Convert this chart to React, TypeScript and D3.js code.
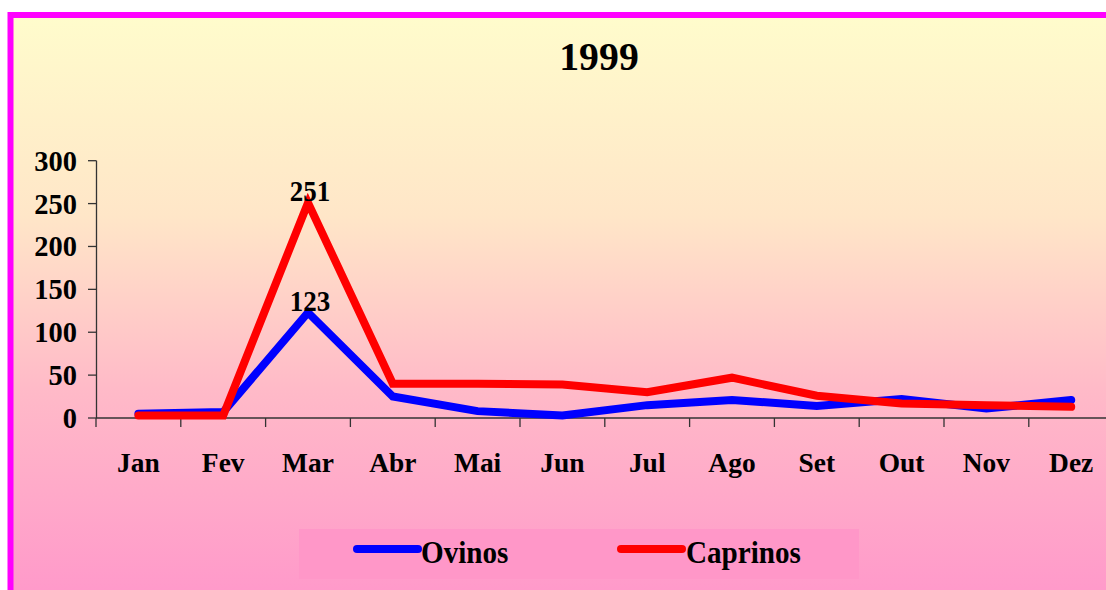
import React from "react";
import * as d3 from "d3";

const months = ["Jan", "Fev", "Mar", "Abr", "Mai", "Jun", "Jul", "Ago", "Set", "Out", "Nov", "Dez"];
const ovinos = [5, 7, 123, 25, 8, 3, 15, 21, 14, 22, 11, 21];
const caprinos = [3, 3, 251, 40, 40, 39, 30, 47, 26, 17, 15, 13];
const yTicks = [0, 50, 100, 150, 200, 250, 300];
const title = "1999";
const seriesNames = ["Ovinos", "Caprinos"];
const labeled = [{ series: 0, index: 2 }, { series: 1, index: 2 }];

const W = 1106;
const H = 590;
const FONT = "'Liberation Serif', 'Times New Roman', serif";

export default function App() {
  const x0 = 96;
  const band = 84.8;
  const x = d3.scaleBand<string>().domain(months).range([x0, x0 + band * months.length]).padding(0);
  const y = d3.scaleLinear().domain([0, 300]).range([418, 160.7]);
  const cx = (i: number) => (x(months[i]) as number) + x.bandwidth() / 2;
  const line = d3.line<number>().x((_, i) => cx(i)).y((d) => y(d));
  const series = [ovinos, caprinos];
  const colors = ["#0000FF", "#FF0000"];

  const legendItems = [
    { name: seriesNames[0], color: colors[0], lx: 357, tx: 421 },
    { name: seriesNames[1], color: colors[1], lx: 621, tx: 686 },
  ];

  return (
    <svg width={W} height={H} style={{ position: "absolute", left: 0, top: 0 }} fontFamily={FONT}>
      <defs>
        <linearGradient id="bg" gradientUnits="userSpaceOnUse" x1="0" y1="15" x2="0" y2="590">
          <stop offset="0" stopColor="#FFFCCC" />
          <stop offset="0.35" stopColor="#FFE6C8" />
          <stop offset="0.65" stopColor="#FFBAC8" />
          <stop offset="1" stopColor="#FF9ACA" />
        </linearGradient>
      </defs>
      <rect x={10.5} y={15} width={W + 50} height={H + 50} fill="url(#bg)" stroke="#FF00FF" strokeWidth={6} />
      <g transform={`translate(599,70) scale(0.97,1)`}>
        <text textAnchor="middle" fontWeight="bold" fontSize={41} fill="#000">{title}</text>
      </g>
      {/* y axis */}
      <line x1={96.5} x2={96.5} y1={y(300)} y2={y(0)} stroke="#333" strokeWidth={1.3} />
      {yTicks.map((t) => (
        <g key={t}>
          <line x1={88} x2={96.5} y1={y(t)} y2={y(t)} stroke="#333" strokeWidth={1.3} />
          <g transform={`translate(77,${y(t) + 10}) scale(0.95,1)`}>
            <text textAnchor="end" fontWeight="bold" fontSize={30} fill="#000">{t}</text>
          </g>
        </g>
      ))}
      {/* x axis */}
      <line x1={96} x2={W} y1={y(0)} y2={y(0)} stroke="#333" strokeWidth={1.3} />
      {months.map((m, i) => (
        <g key={m}>
          <line x1={(x(m) as number)} x2={(x(m) as number)} y1={y(0)} y2={y(0) + 9} stroke="#333" strokeWidth={1.3} />
          <g transform={`translate(${cx(i)},472) scale(0.98,1)`}>
            <text textAnchor="middle" fontWeight="bold" fontSize={28} fill="#000">{m}</text>
          </g>
        </g>
      ))}
      {series.map((s, k) => (
        <path key={k} d={line(s) as string} fill="none" stroke={colors[k]} strokeWidth={8} strokeLinecap="round" strokeLinejoin="miter" />
      ))}
      {labeled.map((l, k) => (
        <g key={k} transform={`translate(${cx(l.index) + 2},${y(series[l.series][l.index]) - 2}) scale(0.9,1)`}>
          <text textAnchor="middle" fontWeight="bold" fontSize={30} fill="#000">{series[l.series][l.index]}</text>
        </g>
      ))}
      {/* legend */}
      <rect x={299} y={529} width={560} height={50} fill="#FF97C8" />
      {legendItems.map((it) => (
        <g key={it.name}>
          <line x1={it.lx} x2={it.lx + 61} y1={549} y2={549} stroke={it.color} strokeWidth={8} strokeLinecap="round" />
          <g transform={`translate(${it.tx},563) scale(0.94,1)`}>
            <text fontWeight="bold" fontSize={31} fill="#000">{it.name}</text>
          </g>
        </g>
      ))}
    </svg>
  );
}
